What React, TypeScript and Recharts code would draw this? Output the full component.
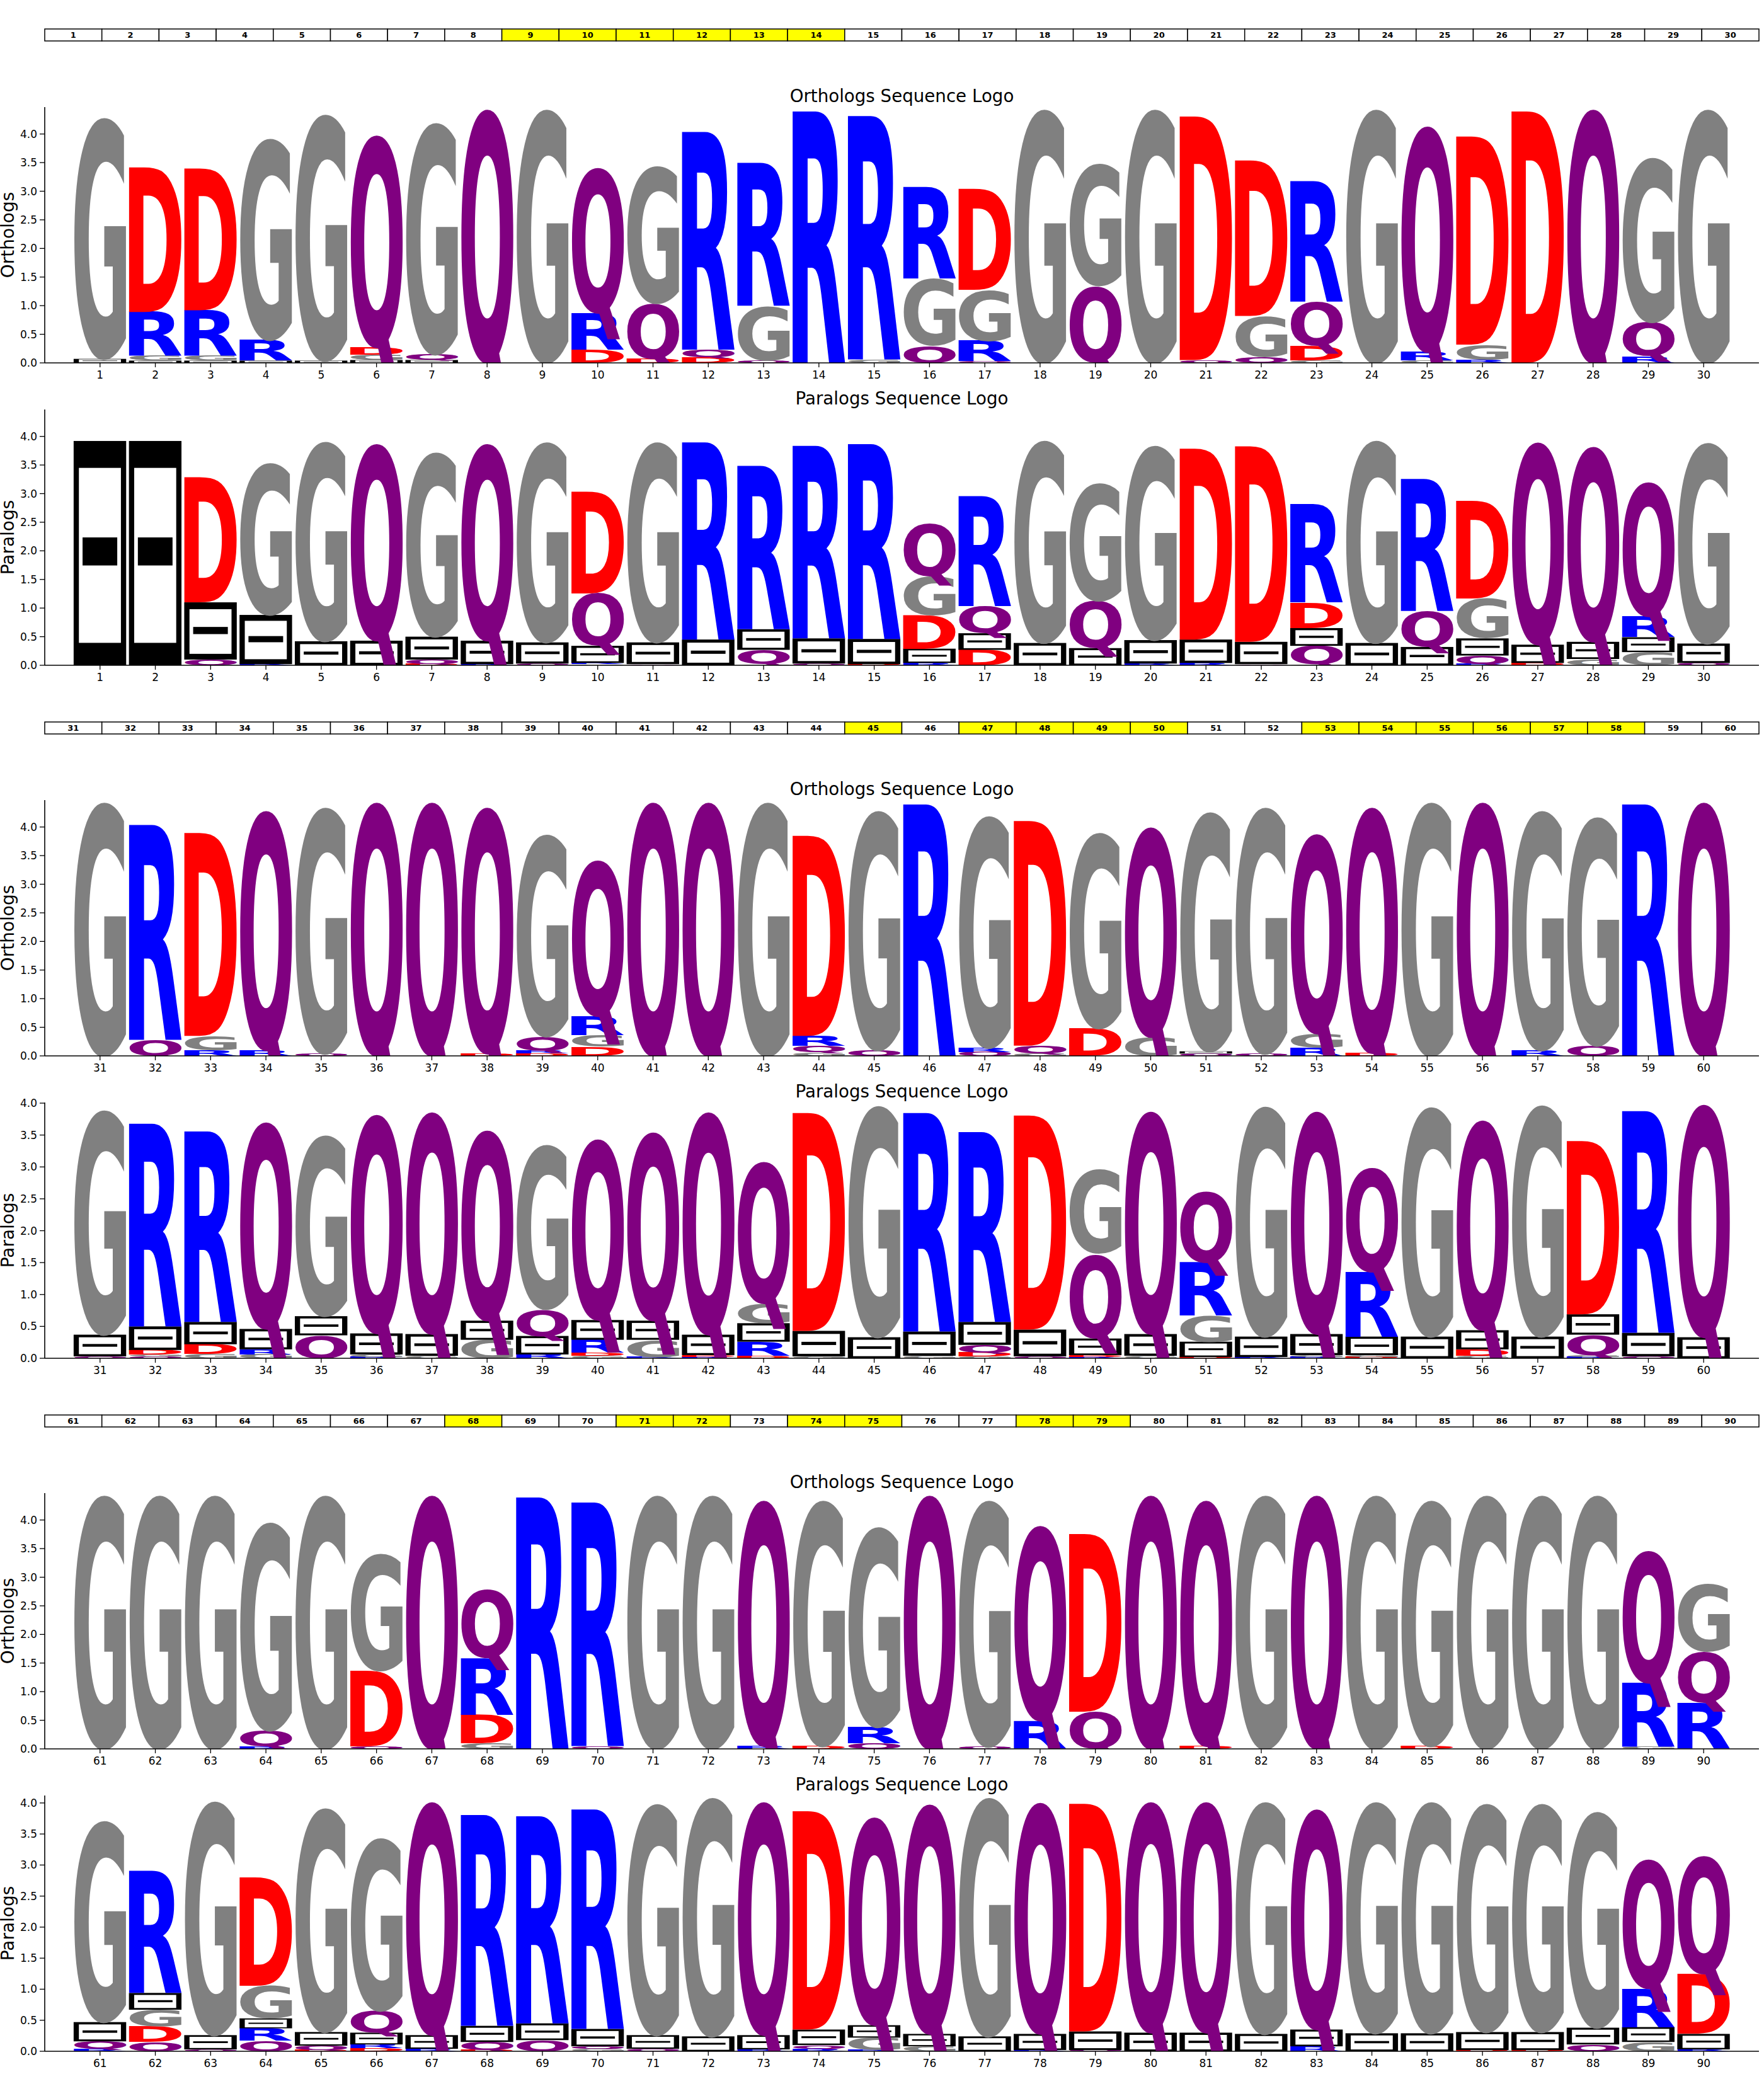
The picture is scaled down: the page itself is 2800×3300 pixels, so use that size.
import React from 'react';
import { BarChart, Bar, XAxis, YAxis } from 'recharts';

type Stack = [string, number][];

// each position: letters from bottom to top, with their height in bits
const orthologs1: Stack[] = [
  [['-', 0.07], ['G', 4.25]],
  [['-', 0.04], ['G', 0.08], ['R', 0.77], ['D', 2.53]],
  [['-', 0.04], ['G', 0.08], ['R', 0.8], ['D', 2.48]],
  [['-', 0.04], ['R', 0.36], ['G', 3.55]],
  [['-', 0.04], ['G', 4.34]],
  [['-', 0.05], ['G', 0.09], ['D', 0.13], ['Q', 3.74]],
  [['-', 0.05], ['Q', 0.1], ['G', 4.08]],
  [['Q', 4.47]],
  [['G', 4.47]],
  [['D', 0.23], ['R', 0.64], ['Q', 2.56]],
  [['D', 0.07], ['Q', 0.97], ['G', 2.42]],
  [['D', 0.1], ['Q', 0.13], ['R', 3.81]],
  [['Q', 0.04], ['G', 0.96], ['R', 2.5]],
  [['R', 4.4]],
  [['G', 0.06], ['R', 4.26]],
  [['Q', 0.3], ['G', 1.18], ['R', 1.61]],
  [['Q', 0.03], ['R', 0.35], ['G', 0.9], ['D', 1.76]],
  [['G', 4.47]],
  [['Q', 1.35], ['G', 2.15]],
  [['G', 4.47]],
  [['Q', 0.05], ['D', 4.26]],
  [['Q', 0.1], ['G', 0.72], ['D', 2.72]],
  [['G', 0.04], ['D', 0.26], ['Q', 0.77], ['R', 2.11]],
  [['G', 4.47]],
  [['G', 0.04], ['R', 0.15], ['Q', 3.98]],
  [['R', 0.05], ['G', 0.27], ['D', 3.64]],
  [['D', 4.4]],
  [['Q', 4.47]],
  [['R', 0.12], ['Q', 0.59], ['G', 2.9]],
  [['G', 4.47]],
];

const paralogs1: Stack[] = [
  [['-', 3.92]],
  [['-', 3.92]],
  [['Q', 0.1], ['-', 1.0], ['D', 2.19]],
  [['R', 0.02], ['-', 0.86], ['G', 2.68]],
  [['-', 0.42], ['G', 3.52]],
  [['-', 0.43], ['Q', 3.47]],
  [['D', 0.02], ['Q', 0.08], ['-', 0.4], ['G', 3.25]],
  [['R', 0.02], ['-', 0.41], ['Q', 3.47]],
  [['Q', 0.03], ['-', 0.37], ['G', 3.53]],
  [['G', 0.02], ['R', 0.02], ['-', 0.3], ['Q', 0.92], ['D', 1.78]],
  [['Q', 0.02], ['-', 0.38], ['G', 3.53]],
  [['-', 0.45], ['R', 3.45]],
  [['G', 0.02], ['Q', 0.25], ['-', 0.36], ['R', 2.86]],
  [['Q', 0.03], ['-', 0.44], ['R', 3.37]],
  [['D', 0.02], ['-', 0.44], ['R', 3.41]],
  [['R', 0.04], ['-', 0.25], ['D', 0.58], ['G', 0.68], ['Q', 0.92]],
  [['D', 0.27], ['-', 0.29], ['Q', 0.48], ['R', 1.92]],
  [['-', 0.39], ['G', 3.57]],
  [['-', 0.3], ['Q', 0.83], ['G', 2.07]],
  [['R', 0.03], ['-', 0.41], ['G', 3.43]],
  [['R', 0.04], ['-', 0.41], ['D', 3.34]],
  [['Q', 0.02], ['-', 0.39], ['D', 3.42]],
  [['G', 0.02], ['Q', 0.32], ['-', 0.31], ['D', 0.45], ['R', 1.72]],
  [['-', 0.39], ['G', 3.57]],
  [['-', 0.32], ['Q', 0.63], ['R', 2.31]],
  [['R', 0.02], ['Q', 0.15], ['-', 0.3], ['G', 0.7], ['D', 1.7]],
  [['D', 0.04], ['-', 0.32], ['Q', 3.57]],
  [['G', 0.11], ['-', 0.3], ['Q', 3.44]],
  [['G', 0.23], ['-', 0.26], ['R', 0.36], ['Q', 2.37]],
  [['Q', 0.04], ['-', 0.34], ['G', 3.54]],
];

const orthologs2: Stack[] = [
  [['G', 4.47]],
  [['Q', 0.28], ['R', 3.76]],
  [['R', 0.1], ['G', 0.25], ['D', 3.55]],
  [['R', 0.1], ['Q', 4.22]],
  [['Q', 0.04], ['G', 4.34]],
  [['Q', 4.47]],
  [['Q', 4.47]],
  [['D', 0.04], ['Q', 4.34]],
  [['D', 0.04], ['R', 0.05], ['Q', 0.25], ['G', 3.56]],
  [['D', 0.16], ['G', 0.2], ['R', 0.33], ['Q', 2.75]],
  [['Q', 4.47]],
  [['Q', 4.47]],
  [['G', 4.47]],
  [['G', 0.06], ['Q', 0.12], ['R', 0.17], ['D', 3.5]],
  [['Q', 0.1], ['G', 4.22]],
  [['R', 4.4]],
  [['Q', 0.07], ['R', 0.07], ['G', 4.09]],
  [['G', 0.04], ['Q', 0.14], ['D', 3.93]],
  [['D', 0.48], ['G', 3.45]],
  [['G', 0.33], ['Q', 3.7]],
  [['Q', 0.04], ['-', 0.04], ['G', 4.22]],
  [['Q', 0.04], ['G', 4.34]],
  [['R', 0.14], ['G', 0.25], ['Q', 3.52]],
  [['D', 0.05], ['Q', 4.33]],
  [['G', 4.47]],
  [['Q', 4.47]],
  [['R', 0.1], ['G', 4.22]],
  [['Q', 0.18], ['G', 4.03]],
  [['R', 4.4]],
  [['Q', 4.47]],
];

const paralogs2: Stack[] = [
  [['Q', 0.03], ['-', 0.34], ['G', 3.55]],
  [['Q', 0.03], ['G', 0.03], ['D', 0.07], ['-', 0.37], ['R', 3.18]],
  [['G', 0.07], ['D', 0.15], ['-', 0.35], ['R', 2.99]],
  [['G', 0.06], ['R', 0.08], ['-', 0.32], ['Q', 3.27]],
  [['Q', 0.36], ['-', 0.3], ['G', 2.86]],
  [['R', 0.02], ['G', 0.04], ['-', 0.33], ['Q', 3.46]],
  [['G', 0.04], ['-', 0.34], ['Q', 3.51]],
  [['G', 0.29], ['-', 0.3], ['Q', 3.01]],
  [['R', 0.06], ['-', 0.29], ['Q', 0.42], ['G', 2.6]],
  [['G', 0.04], ['D', 0.05], ['R', 0.2], ['-', 0.31], ['Q', 2.86]],
  [['R', 0.02], ['G', 0.27], ['-', 0.3], ['Q', 2.98]],
  [['R', 0.02], ['D', 0.03], ['-', 0.32], ['Q', 3.52]],
  [['D', 0.04], ['R', 0.22], ['-', 0.29], ['G', 0.31], ['Q', 2.24]],
  [['G', 0.03], ['-', 0.4], ['D', 3.42]],
  [['-', 0.33], ['G', 3.66]],
  [['G', 0.04], ['-', 0.38], ['R', 3.43]],
  [['G', 0.03], ['D', 0.06], ['Q', 0.12], ['-', 0.36], ['R', 2.98]],
  [['Q', 0.03], ['-', 0.42], ['D', 3.36]],
  [['R', 0.02], ['D', 0.03], ['-', 0.26], ['Q', 1.33], ['G', 1.33]],
  [['G', 0.04], ['-', 0.34], ['Q', 3.52]],
  [['D', 0.02], ['-', 0.24], ['G', 0.41], ['R', 0.83], ['Q', 1.13]],
  [['R', 0.02], ['-', 0.32], ['G', 3.64]],
  [['R', 0.02], ['G', 0.03], ['-', 0.33], ['Q', 3.52]],
  [['D', 0.02], ['G', 0.03], ['-', 0.29], ['R', 1.01], ['Q', 1.65]],
  [['-', 0.34], ['G', 3.63]],
  [['G', 0.04], ['D', 0.1], ['-', 0.3], ['Q', 3.32]],
  [['-', 0.34], ['G', 3.66]],
  [['R', 0.02], ['G', 0.03], ['Q', 0.32], ['-', 0.32], ['D', 2.72]],
  [['Q', 0.03], ['-', 0.37], ['R', 3.48]],
  [['-', 0.33], ['Q', 3.68]],
];

const orthologs3: Stack[] = [
  [['G', 4.47]],
  [['G', 4.47]],
  [['G', 4.47]],
  [['R', 0.04], ['Q', 0.28], ['G', 3.67]],
  [['G', 4.47]],
  [['Q', 0.04], ['D', 1.32], ['G', 2.06]],
  [['Q', 4.47]],
  [['G', 0.1], ['D', 0.5], ['R', 0.99], ['Q', 1.21]],
  [['R', 4.4]],
  [['Q', 0.05], ['R', 4.26]],
  [['G', 4.47]],
  [['G', 4.47]],
  [['R', 0.05], ['Q', 4.33]],
  [['D', 0.05], ['G', 4.33]],
  [['Q', 0.1], ['R', 0.28], ['G', 3.53]],
  [['Q', 4.47]],
  [['Q', 0.04], ['G', 4.34]],
  [['R', 0.49], ['Q', 3.44]],
  [['Q', 0.65], ['D', 3.11]],
  [['Q', 4.47]],
  [['D', 0.05], ['Q', 4.33]],
  [['G', 4.47]],
  [['Q', 4.47]],
  [['G', 4.47]],
  [['D', 0.05], ['G', 4.33]],
  [['G', 4.47]],
  [['G', 4.47]],
  [['G', 4.47]],
  [['G', 0.04], ['R', 1.11], ['Q', 2.33]],
  [['R', 0.8], ['Q', 0.9], ['G', 1.2]],
];

const paralogs3: Stack[] = [
  [['R', 0.04], ['Q', 0.12], ['-', 0.31], ['G', 3.27]],
  [['Q', 0.15], ['D', 0.25], ['G', 0.27], ['-', 0.27], ['R', 1.97]],
  [['Q', 0.03], ['-', 0.23], ['G', 3.8]],
  [['Q', 0.17], ['R', 0.2], ['-', 0.16], ['G', 0.53], ['D', 1.74]],
  [['D', 0.02], ['Q', 0.07], ['-', 0.22], ['G', 3.64]],
  [['D', 0.05], ['R', 0.06], ['-', 0.19], ['Q', 0.35], ['G', 2.81]],
  [['R', 0.04], ['-', 0.22], ['Q', 3.79]],
  [['D', 0.02], ['Q', 0.13], ['-', 0.26], ['R', 3.4]],
  [['Q', 0.18], ['-', 0.27], ['R', 3.34]],
  [['G', 0.04], ['Q', 0.04], ['-', 0.28], ['R', 3.54]],
  [['Q', 0.04], ['-', 0.22], ['G', 3.76]],
  [['-', 0.24], ['G', 3.88]],
  [['R', 0.03], ['-', 0.23], ['Q', 3.79]],
  [['R', 0.04], ['Q', 0.06], ['-', 0.25], ['D', 3.52]],
  [['R', 0.02], ['G', 0.2], ['-', 0.2], ['Q', 3.38]],
  [['G', 0.08], ['-', 0.2], ['Q', 3.73]],
  [['-', 0.24], ['G', 3.88]],
  [['R', 0.02], ['-', 0.26], ['Q', 3.76]],
  [['Q', 0.02], ['-', 0.3], ['D', 3.67]],
  [['-', 0.3], ['Q', 3.75]],
  [['-', 0.3], ['Q', 3.75]],
  [['-', 0.28], ['G', 3.77]],
  [['R', 0.08], ['-', 0.27], ['Q', 3.58]],
  [['-', 0.29], ['G', 3.76]],
  [['-', 0.29], ['G', 3.76]],
  [['D', 0.02], ['-', 0.29], ['G', 3.71]],
  [['D', 0.02], ['-', 0.29], ['G', 3.71]],
  [['Q', 0.11], ['-', 0.27], ['G', 3.51]],
  [['G', 0.15], ['-', 0.24], ['R', 0.62], ['Q', 2.1]],
  [['R', 0.03], ['-', 0.25], ['D', 0.96], ['Q', 1.91]],
];

// positions marked yellow in the index strip above each row
const highlighted1 = [9, 10, 11, 12, 13, 14];
const highlighted2 = [45, 47, 48, 49, 50, 53, 54, 55, 56, 57, 58];
const highlighted3 = [68, 71, 72, 74, 75, 78, 79];

const yTicks = [0, 0.5, 1, 1.5, 2, 2.5, 3, 3.5, 4];

const rows = [
  { start: 1, orthologs: orthologs1, paralogs: paralogs1, highlighted: highlighted1, yMax: [4.47, 4.47] },
  { start: 31, orthologs: orthologs2, paralogs: paralogs2, highlighted: highlighted2, yMax: [4.47, 4.01] },
  { start: 61, orthologs: orthologs3, paralogs: paralogs3, highlighted: highlighted3, yMax: [4.47, 4.12] },
];

const W = 2800;
const H = 3300;
const PLOT_LEFT = 71;
const PLOT_RIGHT = 8;
const PLOT_H = 406;
const ROW_STEP = 1100;
const STRIP_TOP = 46;
const ORTH_TOP = 170;
const PARA_TOP = 650;
const TOP_PAD = 10;
const XAXIS_H = 40;
const FONT = 'DejaVu Sans';

const COLORS: Record<string, string> = {
  G: '#808080',
  D: '#ff0000',
  R: '#0000ff',
  Q: '#800080',
};

type Ink = { l: number; r: number; a: number; d: number };

// ink box of each glyph at 100px, so it can be stretched to fill its slot
const measureGlyphs = (): Record<string, Ink> => {
  const out: Record<string, Ink> = {
    G: { l: -5, r: 76, a: 75, d: 1.5 },
    D: { l: -9, r: 77, a: 73, d: 0 },
    R: { l: -9, r: 78, a: 73, d: 0 },
    Q: { l: -5, r: 80, a: 75, d: 17 },
  };
  try {
    const ctx = document.createElement('canvas').getContext('2d');
    if (!ctx) return out;
    ctx.font = `bold 100px '${FONT}'`;
    for (const c of Object.keys(out)) {
      const m = ctx.measureText(c);
      out[c] = {
        l: m.actualBoundingBoxLeft,
        r: m.actualBoundingBoxRight,
        a: m.actualBoundingBoxAscent,
        d: m.actualBoundingBoxDescent,
      };
    }
  } catch (e) {
    // keep fallback metrics
  }
  return out;
};

const INK = measureGlyphs();

const renderGlyph = (letter: string, x: number, y: number, w: number, h: number) => {
  if (!letter || !(h > 0.3) || !(w > 0)) return <g />;
  if (letter === '-') {
    return (
      <g>
        <rect x={x} y={y} width={w} height={h} fill="#000" />
        <rect x={x + 0.1 * w} y={y + 0.12 * h} width={0.8 * w} height={0.78 * h} fill="#fff" />
        <rect x={x + 0.17 * w} y={y + 0.43 * h} width={0.66 * w} height={0.125 * h} fill="#000" />
      </g>
    );
  }
  const m = INK[letter];
  const sx = w / (m.l + m.r);
  const tx = x + m.l * sx;
  // Q keeps its tail below the slot, like the reference
  const below = letter === 'Q' ? INK.G.d : m.d;
  const sy = h / (m.a + below);
  const ty = y + h - below * sy;
  return (
    <text
      x={0}
      y={0}
      transform={`translate(${tx},${ty}) scale(${sx},${sy})`}
      fontFamily={FONT}
      fontWeight="bold"
      fontSize={100}
      fill={COLORS[letter]}
    >
      {letter}
    </text>
  );
};

const toRows = (stacks: Stack[], start: number) =>
  stacks.map((s, i) => {
    const row: Record<string, number | string> = { pos: start + i };
    for (let k = 0; k < 5; k++) {
      row[`h${k}`] = s[k] ? s[k][1] : 0;
      row[`l${k}`] = s[k] ? s[k][0] : '';
    }
    return row;
  });

const Logo = ({ stacks, start, yMax }: { stacks: Stack[]; start: number; yMax: number }) => {
  const data = toRows(stacks, start);
  const xTicks = stacks.map((_, i) => start + i);
  const slot = (W - PLOT_LEFT - PLOT_RIGHT) / 31;
  return (
    <BarChart
      width={W}
      height={TOP_PAD + PLOT_H + XAXIS_H}
      data={data}
      margin={{ top: TOP_PAD, right: PLOT_RIGHT, bottom: 0, left: 0 }}
      barSize={slot * 0.95}
    >
      <XAxis
        type="number"
        dataKey="pos"
        domain={[start - 1, start + 30]}
        ticks={xTicks}
        interval={0}
        allowDataOverflow
        height={XAXIS_H}
        tickSize={7}
        tickMargin={6}
        tick={{ fontSize: 17, fontFamily: FONT, fill: '#000' }}
        axisLine={{ stroke: '#000', strokeWidth: 1.6 }}
        tickLine={{ stroke: '#000', strokeWidth: 1.3 }}
      />
      <YAxis
        type="number"
        domain={[0, yMax]}
        ticks={yTicks}
        interval={0}
        allowDataOverflow
        width={PLOT_LEFT}
        tickSize={8}
        tickMargin={4}
        tickFormatter={(v: number) => v.toFixed(1)}
        tick={{ fontSize: 17, fontFamily: FONT, fill: '#000' }}
        axisLine={{ stroke: '#000', strokeWidth: 1.6 }}
        tickLine={{ stroke: '#000', strokeWidth: 1.3 }}
      />
      {[0, 1, 2, 3, 4].map((k) => (
        <Bar
          key={k}
          dataKey={`h${k}`}
          stackId="logo"
          isAnimationActive={false}
          shape={(p: any) => renderGlyph(p.payload?.[`l${k}`], p.x, p.y, p.width, p.height)}
        />
      ))}
    </BarChart>
  );
};

const App = () => {
  const stripW = (W - PLOT_LEFT - PLOT_RIGHT) / 30;
  const midX = PLOT_LEFT + (W - PLOT_LEFT - PLOT_RIGHT) / 2;
  return (
    <div style={{ position: 'relative', width: W, height: H, background: '#fff', overflow: 'hidden' }}>
      <style>{'body{margin:0}'}</style>
      {rows.map((row, r) => {
        const off = r * ROW_STEP;
        return (
          <React.Fragment key={r}>
            <div style={{ position: 'absolute', left: 0, top: off + ORTH_TOP - TOP_PAD }}>
              <Logo stacks={row.orthologs} start={row.start} yMax={row.yMax[0]} />
            </div>
            <div style={{ position: 'absolute', left: 0, top: off + PARA_TOP - TOP_PAD }}>
              <Logo stacks={row.paralogs} start={row.start} yMax={row.yMax[1]} />
            </div>
          </React.Fragment>
        );
      })}
      <svg
        width={W}
        height={H}
        style={{ position: 'absolute', left: 0, top: 0, pointerEvents: 'none' }}
        fontFamily={FONT}
      >
        {rows.map((row, r) => {
          const off = r * ROW_STEP;
          const orthMid = off + ORTH_TOP + PLOT_H / 2;
          const paraMid = off + PARA_TOP + PLOT_H / 2;
          return (
            <g key={r}>
              {row.orthologs.map((_, i) => {
                const n = row.start + i;
                const x = PLOT_LEFT + i * stripW;
                return (
                  <g key={n}>
                    <rect
                      x={x}
                      y={off + STRIP_TOP}
                      width={stripW}
                      height={19}
                      fill={row.highlighted.includes(n) ? '#ffff00' : '#fff'}
                      stroke="#000"
                      strokeWidth={1.5}
                    />
                    <text
                      x={x + stripW / 2}
                      y={off + STRIP_TOP + 14}
                      textAnchor="middle"
                      fontSize={13}
                      fontWeight="bold"
                    >
                      {n}
                    </text>
                  </g>
                );
              })}
              <text x={midX} y={off + ORTH_TOP - 8} textAnchor="middle" fontSize={27.7}>
                Orthologs Sequence Logo
              </text>
              <text x={midX} y={off + PARA_TOP - 8} textAnchor="middle" fontSize={27.7}>
                Paralogs Sequence Logo
              </text>
              <text
                x={22}
                y={orthMid}
                textAnchor="middle"
                fontSize={28}
                transform={`rotate(-90 22 ${orthMid})`}
              >
                Orthologs
              </text>
              <text
                x={22}
                y={paraMid}
                textAnchor="middle"
                fontSize={28}
                transform={`rotate(-90 22 ${paraMid})`}
              >
                Paralogs
              </text>
            </g>
          );
        })}
      </svg>
    </div>
  );
};

export default App;
